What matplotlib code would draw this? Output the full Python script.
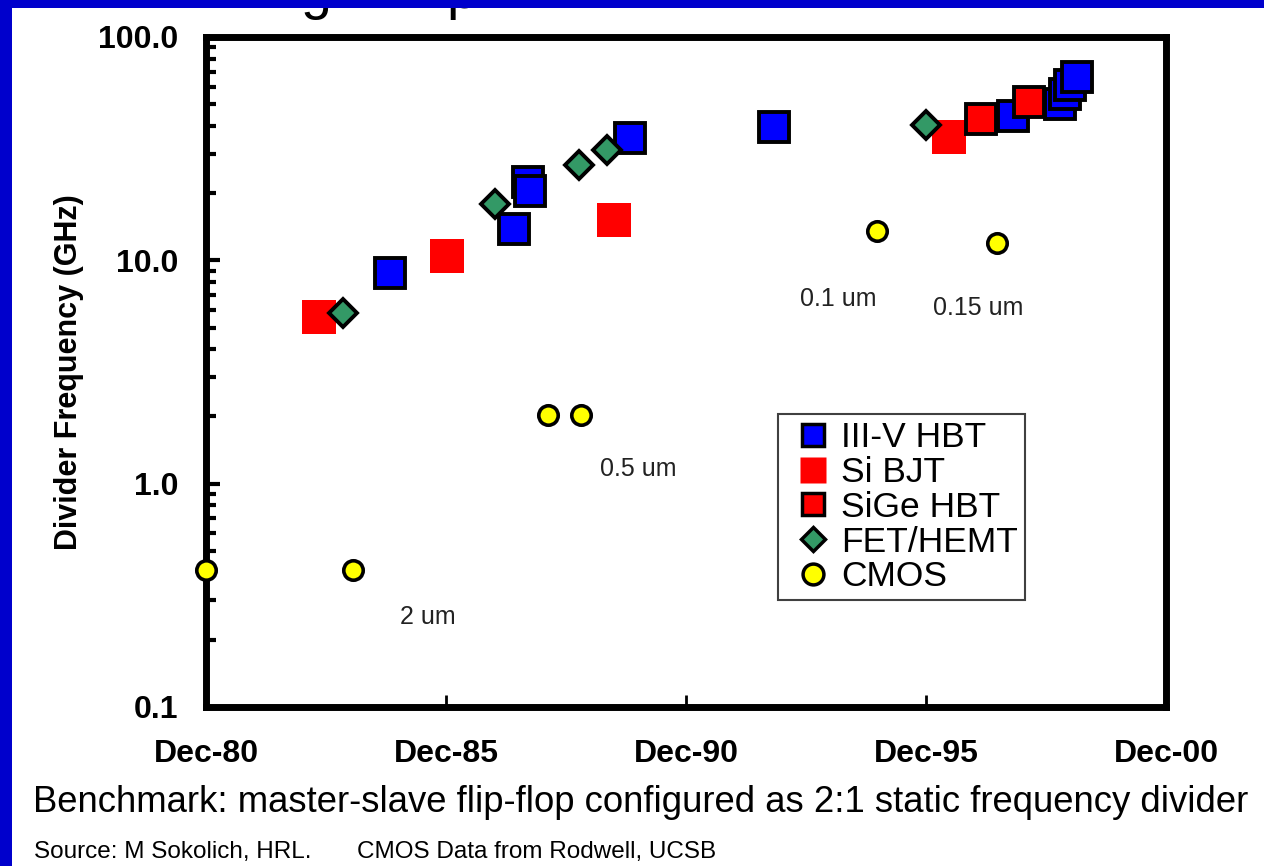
import matplotlib
matplotlib.use("Agg")
import matplotlib.pyplot as plt
from matplotlib.lines import Line2D
from matplotlib.patches import Rectangle
from matplotlib.ticker import LogLocator, NullFormatter

plt.rcParams['font.family'] = ['Liberation Sans', 'DejaVu Sans']

# dates as decimal years (Dec-80 = 1980.917)
iii_v_x = [1984.75, 1987.33, 1987.63, 1987.67, 1989.75, 1992.75, 1997.73, 1998.71, 1998.81, 1998.92, 1999.06]
iii_v_y = [8.8, 13.8, 22.4, 20.4, 35.3, 39.5, 44.3, 50.1, 55.6, 61.0, 66.2]

si_bjt_x = [1983.27, 1985.94, 1989.42, 1996.40]
si_bjt_y = [5.57, 10.45, 15.2, 35.7]

sige_x = [1997.07, 1998.07]
sige_y = [42.9, 51.2]

fet_x = [1983.77, 1986.94, 1988.69, 1989.27, 1995.92]
fet_y = [5.81, 17.9, 26.7, 31.2, 40.4]

cmos_x = [1980.92, 1983.98, 1988.05, 1988.73, 1994.90, 1997.40]
cmos_y = [0.41, 0.41, 2.03, 2.03, 13.5, 11.9]

node_labels = ["2 um", "0.5 um", "0.1 um", "0.15 um"]
node_x = [1985.54, 1989.92, 1994.08, 1997.0]
node_y = [0.253, 1.16, 6.71, 6.11]

xtick_pos = [1980.917, 1985.917, 1990.917, 1995.917, 2000.917]
xtick_lab = ["Dec-80", "Dec-85", "Dec-90", "Dec-95", "Dec-00"]
ytick_pos = [0.1, 1, 10, 100]
ytick_lab = ["0.1", "1.0", "10.0", "100.0"]

W, H = 1264, 866
fig = plt.figure(figsize=(W / 100, H / 100), dpi=100)
ax = fig.add_axes([206 / W, 1 - 707 / H, 960 / W, 670 / H])

BLUE = "#0000FF"
RED = "#FF0000"
GREEN = "#339966"
YELLOW = "#FFFF00"

ax.plot(iii_v_x, iii_v_y, ls="none", marker="s", ms=22, mfc=BLUE, mec="black", mew=2.8,
        zorder=3, clip_on=False)
ax.plot(si_bjt_x, si_bjt_y, ls="none", marker="s", ms=24.5, mfc=RED, mec="none", mew=0,
        zorder=3, clip_on=False)
ax.plot(sige_x, sige_y, ls="none", marker="s", ms=22, mfc=RED, mec="black", mew=2.8,
        zorder=3, clip_on=False)
ax.plot(fet_x, fet_y, ls="none", marker="D", ms=14, mfc=GREEN, mec="black", mew=2.8,
        zorder=3, clip_on=False)
ax.plot(cmos_x, cmos_y, ls="none", marker="o", ms=14, mfc=YELLOW, mec="black", mew=2.6,
        zorder=3, clip_on=False)

for lab, x, y in zip(node_labels, node_x, node_y):
    ax.text(x, y, lab, ha="center", va="center", fontsize=18, color="#222222")

ax.set_yscale("log")
ax.set_xlim(xtick_pos[0], xtick_pos[-1])
ax.set_ylim(0.1, 100)
ax.set_xticks(xtick_pos)
ax.set_xticklabels(xtick_lab, fontsize=23, fontweight="bold")
ax.set_yticks(ytick_pos)
ax.set_yticklabels(ytick_lab, fontsize=23, fontweight="bold")
ax.yaxis.set_minor_locator(LogLocator(base=10, subs=range(2, 10)))
ax.yaxis.set_minor_formatter(NullFormatter())
ax.tick_params(axis="y", which="major", direction="in", length=10, width=3, pad=20)
ax.tick_params(axis="y", which="minor", direction="in", length=7, width=3)
ax.tick_params(axis="x", which="major", direction="in", length=9, width=2, pad=23)
ax.tick_params(axis="x", which="minor", length=0)
for s in ax.spines.values():
    s.set_linewidth(5)
    s.set_color("black")

ax.set_ylabel("Divider Frequency (GHz)", fontsize=22, fontweight="bold")
ax.yaxis.set_label_coords(-0.127, 0.5)

handles = [
    Line2D([], [], ls="none", marker="s", ms=16, mfc=BLUE, mec="black", mew=2.5),
    Line2D([], [], ls="none", marker="s", ms=19, mfc=RED, mec="none"),
    Line2D([], [], ls="none", marker="s", ms=16, mfc=RED, mec="black", mew=2.5),
    Line2D([], [], ls="none", marker="D", ms=12, mfc=GREEN, mec="black", mew=2.5),
    Line2D([], [], ls="none", marker="o", ms=15, mfc=YELLOW, mec="black", mew=2.5),
]
labels = ["III-V HBT", "Si BJT", "SiGe HBT", "FET/HEMT", "CMOS"]
leg = ax.legend(handles, labels, loc="upper left", bbox_to_anchor=(0.596, 0.437),
                borderaxespad=0, fontsize=25.5, frameon=True, fancybox=False,
                edgecolor="#404040", framealpha=1, borderpad=0.2, labelspacing=0.05,
                handlelength=1.57, handletextpad=0.0)
leg.get_frame().set_linewidth(1.5)

fig.text(33 / W, 1 - 802 / H, "Benchmark: master-slave flip-flop configured as 2:1 static frequency divider",
         fontsize=26.3, ha="left", va="center")
fig.text(34 / W, 1 - 858 / H, "Source: M Sokolich, HRL.", fontsize=17.5, ha="left", va="baseline")
fig.text(357 / W, 1 - 858 / H, "CMOS Data from Rodwell, UCSB", fontsize=17.5, ha="left", va="baseline")

# clipped title fragments at the very top
fig.text(301 / W, 1 - 8 / H, "g", fontsize=40, ha="left", va="baseline", zorder=1)
fig.text(446 / W, 1 - 8 / H, "p", fontsize=40, ha="left", va="baseline", zorder=1)

# slide border
fig.patches.append(Rectangle((0, 0), 12 / W, 1, transform=fig.transFigure,
                             facecolor="#0000CC", edgecolor="none", zorder=10))
fig.patches.append(Rectangle((0, 1 - 8 / H), 1, 8 / H, transform=fig.transFigure,
                             facecolor="#0000CC", edgecolor="none", zorder=10))

fig.savefig("out.png", dpi=100, facecolor="white")
